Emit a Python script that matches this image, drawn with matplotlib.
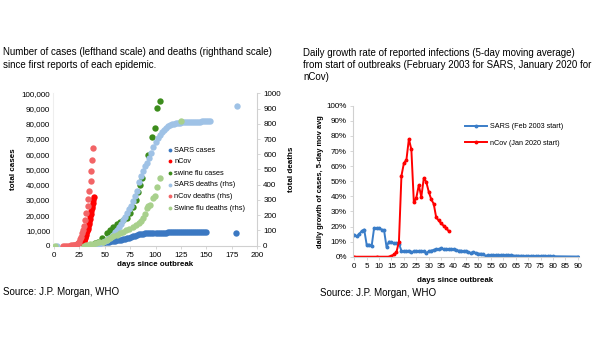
import matplotlib
matplotlib.use("Agg")
import matplotlib.pyplot as plt
import numpy as np

plt.rcParams['font.family'] = ['Liberation Sans', 'DejaVu Sans']

# ---- left chart data: cumulative cases (lhs) and deaths (rhs) ----
sars_case_days = list(range(36, 152, 2)) + [179]
sars_cases = [0, 100, 300, 600, 1000, 1500, 1900, 2200, 2500, 2700, 2900, 3100, 3300,
              3500, 3700, 3900, 4200, 4500, 4900, 5300, 5700, 6100, 6500, 7000, 7400,
              7700, 7900, 8050, 8150, 8250, 8350, 8450, 8500,
              8550, 8580, 8600, 8620, 8640, 8660, 8680, 8700, 8710, 8720, 8730, 8740,
              8750, 8750, 8760, 8760, 8770, 8770, 8780, 8780, 8790, 8790, 8800, 8800, 8800,
              8500]

ncov_case_days = [27, 27.5, 28, 28.5, 29, 29.5, 30, 30.5, 31, 31.5, 32, 32.5, 33, 33.5,
                  34, 34.5, 35, 35.5, 36, 36.5, 37, 37.5, 38, 38.5, 39]
ncov_cases = [300, 700, 1200, 1800, 2500, 3200, 4000, 4900, 5900, 7000, 8200, 9500,
              11000, 12500, 14000, 15800, 17500, 19300, 21000, 22800, 24500, 26300,
              28000, 29800, 32000]

swine_case_days = [32, 36, 40, 43.6, 47, 51.9, 55, 58.4, 62, 65, 68, 71.6, 74.9, 78,
                   80.8, 83, 85, 86.4, 92.3, 96.2, 99.5, 101.2, 104.4]
swine_cases = [0, 500, 1500, 2600, 5000, 8100, 10500, 12500, 14000, 15500, 16800,
               18000, 21200, 25500, 30000, 35000, 39800, 44200, 59500, 71500, 77000,
               90100, 95000]

sars_death_days = [3] + list(range(40, 156, 2)) + [180]
sars_deaths = [0,
               0, 5, 10, 16, 22, 30, 37, 48, 60, 73, 88, 103, 122, 143, 167, 190, 213,
               238, 262, 292, 325, 362, 420, 460, 492, 520, 545, 575, 610, 645, 678,
               705, 725, 745, 760, 773, 783, 792, 797, 800, 803, 805, 807, 809, 810,
               811, 812, 812, 813, 813, 814, 814, 814, 815, 815, 815, 815, 815,
               918]

ncov_death_days = [9, 11, 13, 15, 17, 19, 20, 21, 22, 23, 24, 25, 26, 27, 28, 29, 30,
                   31, 32, 33, 33.8, 34.8, 36.2, 36.8, 37.7, 38.4]
ncov_deaths = [0, 0, 0, 1, 2, 3, 4, 5, 6, 9, 17, 25, 41, 56, 80, 106, 132, 170, 213,
               259, 304, 361, 425, 490, 563, 638]

swine_death_days = [1, 30, 32, 35, 38, 41, 44, 48.6, 52, 55, 58, 61.7, 65, 68, 71, 74,
                    78, 81, 84, 86, 88, 89.5, 91.3, 93, 94.6, 97.2, 99.2, 101, 104.4, 125]
swine_deaths = [0, 0, 5, 10, 14, 18, 22, 26, 40, 52, 62, 70, 82, 92, 102, 112, 125, 138,
                152, 165, 180, 210, 245, 258, 267, 311, 326, 387, 442, 818]

# ---- right chart data: daily growth, 5-day moving average (%) ----
sars_g_days = list(range(0, 81)) + [90]
sars_growth = [14.5, 13.5, 15, 17, 18, 8, 8, 7, 19, 19, 19, 18, 17.5, 6.5, 10, 9.5, 9,
               9, 8.5, 4, 3.5, 3.5, 4, 3, 3.5, 3.5, 3.5, 3.5, 3.5, 2.5, 3.5, 4, 4.5, 5,
               5, 5.5, 5, 5, 5, 5, 5, 4.5, 4, 4, 3.5, 3.5, 3, 2.5, 3, 2.5, 2, 2, 1.5,
               0.5, 1, 1, 1, 1, 1, 1, 1, 0.8, 0.8, 0.8, 0.7, 0.7, 0.6, 0.6, 0.5, 0.5,
               0.5, 0.5, 0.4, 0.4, 0.4, 0.4, 0.3, 0.3, 0.3, 0.3, 0.3,
               0.1]

ncov_g_days = [0, 9, 14, 15, 16, 17, 18, 19, 20, 21, 22, 23, 24, 25, 26, 27, 28, 29, 30,
               31, 32, 33, 34, 35, 36, 37, 38]
ncov_growth = [0, 0, 0, 0.5, 1.5, 3, 10, 53.5, 62, 64, 78, 71, 36, 39, 47.5, 39.5, 52,
               49.5, 43, 38, 35, 26, 24, 22, 20.5, 19, 17]

gray = '#d0d0d0'
tick_fs = 5.8

fig = plt.figure(figsize=(6.05, 3.41), dpi=100)

# ---------------- left chart ----------------
ax = fig.add_axes([53 / 605, 0.2795, 204 / 605, 0.4469])
ax2 = ax.twinx()
ms = 21
h1 = ax.scatter(sars_case_days, sars_cases, s=ms, color='#3b78c2', lw=0, label='SARS cases')
h2 = ax.scatter(ncov_case_days, ncov_cases, s=ms, color='#ff0000', lw=0, label='nCov')
h3 = ax.scatter(swine_case_days, swine_cases, s=ms, color='#3c8c1c', lw=0, label='swine flu cases')
h4 = ax2.scatter(sars_death_days, sars_deaths, s=ms, color='#9fc2e6', lw=0, label='SARS deaths (rhs)')
h5 = ax2.scatter(ncov_death_days, ncov_deaths, s=ms, color='#f26466', lw=0, label='nCov deaths (rhs)')
h6 = ax2.scatter(swine_death_days, swine_deaths, s=ms, color='#a8d08c', lw=0, label='Swine flu deaths (rhs)')

ax.set_xlim(-1, 200)
ax.set_ylim(0, 100000)
ax2.set_ylim(0, 1000)
ax.set_xticks(range(0, 201, 25))
ax.set_yticks(range(0, 100001, 10000))
ax.set_yticklabels([f'{v:,}' for v in range(0, 100001, 10000)])
ax2.set_yticks(range(0, 1001, 100))
for a in (ax, ax2):
    for s in a.spines.values():
        s.set_visible(False)
    a.tick_params(labelsize=tick_fs, length=2.5, width=0.6, color=gray, pad=2)
ax.spines['bottom'].set_visible(True)
ax.spines['bottom'].set_color(gray)
ax.spines['left'].set_visible(True)
ax.spines['left'].set_color('#eeeeee')
ax.tick_params(axis='y', length=0)
ax2.spines['right'].set_visible(True)
ax2.spines['right'].set_color(gray)
ax.set_ylabel('total cases', fontsize=5.8, fontweight='bold', labelpad=3)
ax2.set_ylabel('total deaths', fontsize=5.8, fontweight='bold', labelpad=5)
ax.set_xlabel('days since outbreak', fontsize=5.7, fontweight='bold', labelpad=1.5)

ax2.legend(handles=[h1, h2, h3, h4, h5, h6], loc='upper left', bbox_to_anchor=(0.562, 0.65),
           frameon=False, fontsize=5.3, handlelength=0.6, handletextpad=0.3,
           labelspacing=0.6, borderpad=0, borderaxespad=0, markerscale=0.6,
           scatterpoints=1)

# ---------------- right chart ----------------
bx = fig.add_axes([353 / 605, 0.2472, 226 / 605, 0.4428])
bx.plot(sars_g_days, sars_growth, color='#3a7dc8', lw=1.4, marker='o', ms=1.8,
        label='SARS (Feb 2003 start)')
bx.plot(ncov_g_days, ncov_growth, color='#ff0000', lw=1.4, marker='o', ms=1.8,
        label='nCov (Jan 2020 start)')
bx.set_xlim(-0.5, 90.5)
bx.set_ylim(0, 100)
bx.set_xticks(range(0, 91, 5))
bx.set_yticks(range(0, 101, 10))
bx.set_yticklabels([f'{v}%' for v in range(0, 101, 10)])
for s in ('top', 'right'):
    bx.spines[s].set_visible(False)
for s in ('left', 'bottom'):
    bx.spines[s].set_color(gray)
    bx.spines[s].set_linewidth(0.8)
bx.tick_params(labelsize=tick_fs, length=2.5, width=0.6, color=gray, pad=2)
bx.set_ylabel('daily growth of cases, 5-day mov avg', fontsize=5.4, fontweight='bold', labelpad=2)
bx.set_xlabel('days since outbreak', fontsize=5.7, fontweight='bold', labelpad=2)
bx.xaxis.set_label_coords(0.45, -0.135)
bx.legend(loc='upper left', bbox_to_anchor=(0.495, 0.885), frameon=False, fontsize=5.2,
          handlelength=3.05, handletextpad=0.4, labelspacing=1.35, borderpad=0,
          borderaxespad=0)

# ---------------- titles and sources ----------------
fig.text(3 / 605, 1 - 58.5 / 341,
         'Number of cases (lefthand scale) and deaths (righthand scale)\nsince first reports of each epidemic.',
         fontsize=7.05, va='center', linespacing=1.45)
fig.text(303 / 605, 1 - 65.5 / 341,
         'Daily growth rate of reported infections (5-day moving average)\n'
         'from start of outbreaks (February 2003 for SARS, January 2020 for\nnCov)',
         fontsize=7.05, va='center', linespacing=1.25)
fig.text(3 / 605, 1 - 292 / 341, 'Source: J.P. Morgan, WHO', fontsize=7, va='center')
fig.text(320 / 605, 1 - 292.7 / 341, 'Source: J.P. Morgan, WHO', fontsize=7, va='center')

fig.savefig('out.png', dpi=100)
